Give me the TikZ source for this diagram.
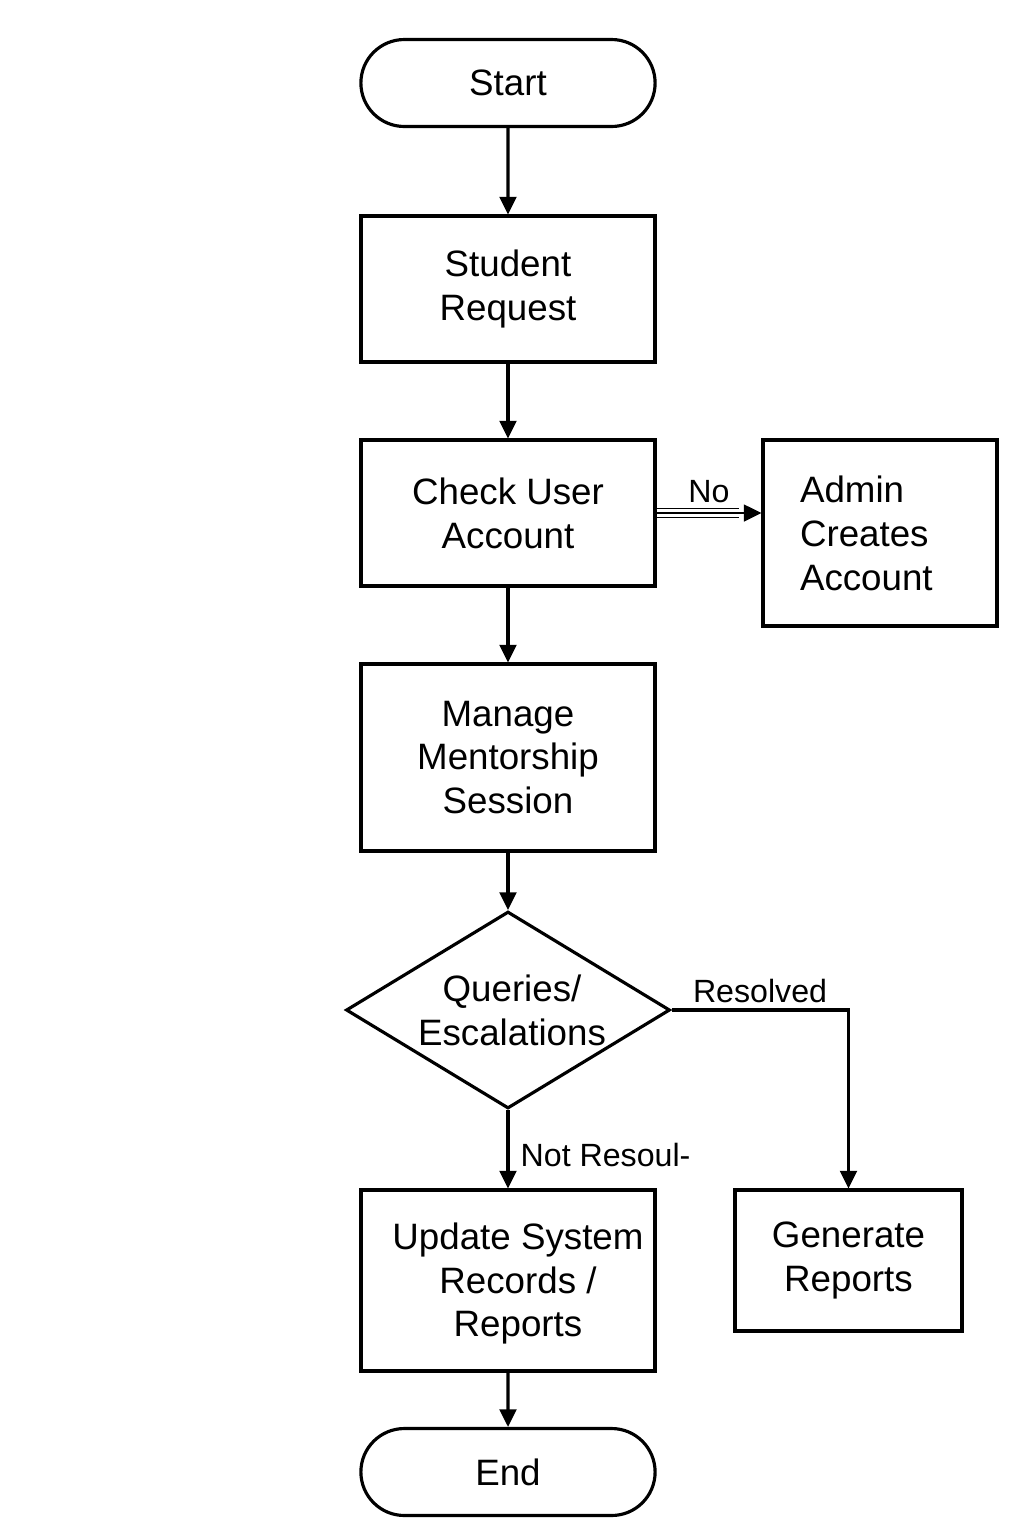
\documentclass[tikz,border=0pt]{standalone}
\usepackage{fontspec}
\setmainfont{Liberation Sans}
\usetikzlibrary{shapes.geometric,shapes.misc,arrows.meta}

\begin{document}
\begin{tikzpicture}[x=0.02cm, y=-0.02cm,
		boxfont/.style={font=\fontsize{20.9}{25}\selectfont},
		lblfont/.style={font=\fontsize{18.3}{22}\selectfont},
		proc/.style={draw, line width=1.8pt, rectangle, align=center, boxfont, minimum width=5.88cm, minimum height=2.92cm},
		term/.style={draw, line width=1.8pt, rounded rectangle, boxfont, minimum width=6.12cm, minimum height=1.74cm},
		decision/.style={draw, line width=1.8pt, diamond, minimum width=6.48cm, minimum height=3.94cm, inner sep=0pt},
		flow/.style={-{Triangle[length=10pt,width=9.5pt]}, line width=1.8pt}]
			\useasboundingbox (0,0) rectangle (1024,1536);

			% Main column
			\node[term] (start) at (508,83) {Start};
			\node[proc] (req) at (508,289) {Student\\Request};
			\node[proc] (check) at (508,513) {Check User\\Account};
			\node[proc, minimum height=3.74cm] (manage) at (508,757.5) {Manage\\Mentorship\\Session};
			\node[decision, label={[boxfont, align=center, xshift=0.08cm]center:Queries/\\Escalations}] (dec) at (508,1010) {};
			\node[proc, minimum height=3.62cm, label={[boxfont, align=center, xshift=0.2cm, yshift=-0.06cm]center:Update System\\Records /\\Reports}] (upd) at (508,1280.5) {};
			\node[term] (end) at (508,1472) {End};

			% Side boxes
			\node[proc, align=left, text width=3.2cm, inner xsep=0.74cm, minimum width=4.68cm, minimum height=3.72cm] (admin) at (880,533) {Admin\\Creates\\Account};
			\node[proc, minimum width=4.54cm, minimum height=2.82cm] (gen) at (848.5,1260.5) {Generate\\Reports};

			% Connectors
			\draw[flow] (start) -- (req);
			\draw[flow] (req) -- (check);
			\draw[flow] (check) -- (manage);
			\draw[flow] (manage) -- (dec);
			\draw[flow] (dec.south) -- (upd.north) node[pos=0.57, right=3pt, lblfont] {Not Resoul-};
			\draw[flow] (upd) -- (end);
			\draw[flow] (dec.east) -| (gen.north) node[pos=0.25, above, lblfont] {Resolved};

			% No branch
			\path (check.east) ++(82,0) coordinate (nobr);
			\draw[line width=0.5pt, double, double distance=4.4pt] (check.east) -- (nobr);
			\draw[flow, line width=1.4pt] (check.east) -- (check.east -| admin.west) node[midway, above=2pt, lblfont] {No};
		\end{tikzpicture}
\end{document}
